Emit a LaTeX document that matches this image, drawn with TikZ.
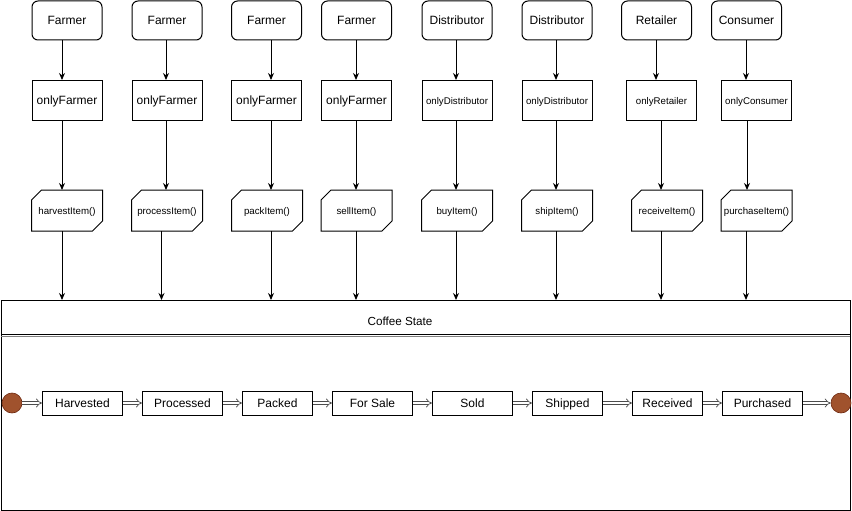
\documentclass[tikz,border=0pt]{standalone}
\usepackage{fontspec}
\setmainfont{Liberation Sans}
\usetikzlibrary{arrows.meta,calc}
\definecolor{startc}{RGB}{160,82,45}
\definecolor{startd}{RGB}{110,40,15}
\begin{document}
\begin{tikzpicture}[x=1pt,y=-1pt,line width=1pt,
  actor/.style={draw, rounded corners=6pt, minimum width=70pt, minimum height=39pt, inner sep=0pt, text height=8.6pt, text depth=0pt, font=\fontsize{12}{14}\selectfont},
  guard/.style={draw, minimum width=70pt, minimum height=40pt, inner sep=0pt, text height=0.716em, text depth=0pt},
  fnbox/.style={minimum width=70pt, minimum height=40pt, inner sep=0pt, text height=7pt, text depth=0pt, font=\fontsize{9.7}{11}\selectfont},
  state/.style={draw, minimum height=24pt, inner sep=0pt, anchor=west, text height=8.6pt, text depth=0pt, font=\fontsize{12}{14}\selectfont},
  arr/.style={-{Stealth[length=7pt,width=6pt]}, line width=1pt},
  link/.style={draw=black!70, double=white, double distance=2.4pt, line width=0.7pt, -{Implies}},
  endpt/.style={circle, fill=startc, draw=startd, line width=0.6pt, minimum size=20pt, inner sep=0pt}]
\useasboundingbox (0,0) rectangle (852,511);

% container
\node[draw, anchor=north west, minimum width=849pt, minimum height=210pt, inner sep=0pt] (cs) at (1,300) {};
\draw (1,334.5) -- (850,334.5);
\draw[gray, line width=0.8pt] (1,335.9) -- (850,335.9);
\node[font=\fontsize{11.7}{14}\selectfont, text height=8.4pt, text depth=0pt] (cst) at (400,321.5) {Coffee State};

\foreach \i/\tx/\mx/\ix/\xa/\xb/\xc/\role/\gtxt/\gsz/\fn in {
1/67/67/67/62/62/62/Farmer/onlyFarmer/12/{harvestItem()},
2/167/167/167/166/166/161.5/Farmer/onlyFarmer/12/{processItem()},
3/266.5/266.5/267/271/271/271/Farmer/onlyFarmer/12/{packItem()},
4/356.5/356.5/356.5/356/356/356/Farmer/onlyFarmer/12/{sellItem()},
5/457/457/457/456/456/456/Distributor/onlyDistributor/9.7/{buyItem()},
6/557/557/557/556/556/556/Distributor/onlyDistributor/9.7/{shipItem()},
7/656.5/661.5/667/656/661/661/Retailer/onlyRetailer/9.7/{receiveItem()},
8/746.5/756.5/756.5/746/747/746/Consumer/onlyConsumer/9.7/{purchaseItem()}}{
  \node[actor] (t\i) at (\tx,20.5) {\role};
  \node[guard, font=\fontsize{\gsz}{14}\selectfont] (m\i) at (\mx,100.5) {\gtxt};
  \node[fnbox] (f\i) at (\ix,210.5) {\fn};
  \draw ([yshift=-10pt]f\i.north west) -- ([xshift=10pt]f\i.north west) -- (f\i.north east)
        -- ([yshift=10pt]f\i.south east) -- ([xshift=-10pt]f\i.south east) -- (f\i.south west) -- cycle;
  \coordinate (xa\i) at (\xa,0);
  \coordinate (xb\i) at (\xb,0);
  \coordinate (xc\i) at (\xc,0);
  \draw[arr] (t\i.south -| xa\i) -- (m\i.north -| xa\i);
  \draw[arr] (m\i.south -| xb\i) -- (f\i.north -| xb\i);
  \draw[arr] (f\i.south -| xc\i) -- (cs.north -| xc\i);
}

% states
\node[endpt] (st) at (12,403) {};
\node[state, minimum width=80pt] (s1) at (42,403) {Harvested};
\node[state, minimum width=80pt] (s2) at (142,403) {Processed};
\node[state, minimum width=70pt] (s3) at (242,403) {Packed};
\node[state, minimum width=80pt] (s4) at (332,403) {For Sale};
\node[state, minimum width=80pt] (s5) at (432,403) {Sold};
\node[state, minimum width=70pt] (s6) at (532,403) {Shipped};
\node[state, minimum width=70pt] (s7) at (632,403) {Received};
\node[state, minimum width=80pt] (s8) at (722,403) {Purchased};
\node[endpt] (en) at (841,403) {};

\draw[link] (st) -- (s1);
\draw[link] (s1) -- (s2);
\draw[link] (s2) -- (s3);
\draw[link] (s3) -- (s4);
\draw[link] (s4) -- (s5);
\draw[link] (s5) -- (s6);
\draw[link] (s6) -- (s7);
\draw[link] (s7) -- (s8);
\draw[link] (s8) -- (en);
\end{tikzpicture}
\end{document}
